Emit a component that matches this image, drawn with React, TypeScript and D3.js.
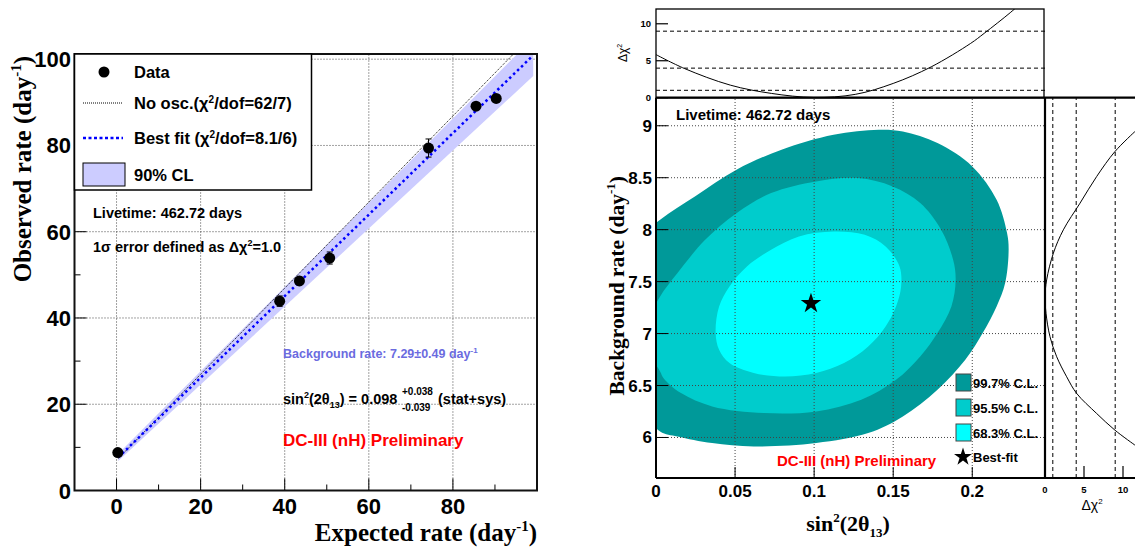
import * as d3 from "d3";

// ---- left panel: observed vs expected rate ----
const expected = [0.3, 38.8, 43.5, 50.7, 74.2, 85.5, 90.3];
const observed = [8.8, 43.9, 48.6, 53.9, 79.4, 89.1, 90.9];
const obsErr = [0.6, 1.2, 0.8, 1.4, 2.1, 0.8, 0.8];

const noOscX = [0.4, 94.4];
const noOscY = [7.4, 101.2];
const bestFitX = [0.4, 99.0];
const bestFitY = [7.67, 100.8];
const bandX = [0.4, 99.1];
const bandLow = [6.85, 96.1];
const bandHigh = [8.5, 104.9];

const leftXMajor = [0, 20, 40, 60, 80];
const leftXMinor = [-10, 10, 30, 50, 70, 90];
const leftYMajor = [0, 20, 40, 60, 80, 100];
const leftYMinor = [10, 30, 50, 70, 90];

// ---- right panel: sin^2(2theta13) vs background rate ----
const sinTicks = [0, 0.05, 0.1, 0.15, 0.2];
const sinTickLabels = ["0", "0.05", "0.1", "0.15", "0.2"];
const bkgTicks = [6, 6.5, 7, 7.5, 8, 8.5, 9];
const bkgTickLabels = ["6", "6.5", "7", "7.5", "8", "8.5", "9"];
const chiTicks = [0, 5, 10];
const chiLevels = [1, 4, 9];

const contour997: [number, number][] = [
  [0.0026, 8.095], [0.0246, 8.32], [0.0509, 8.577], [0.0794, 8.769], [0.1123, 8.913],
  [0.1408, 8.962], [0.1561, 8.945], [0.178, 8.833], [0.2, 8.609], [0.2154, 8.288],
  [0.222, 7.967], [0.223, 7.807], [0.2208, 7.486], [0.2154, 7.261], [0.2066, 7.005],
  [0.1956, 6.748], [0.178, 6.459], [0.1561, 6.202], [0.1342, 6.042], [0.1013, 5.946],
  [0.0618, 5.914], [0.0355, 5.946], [0.0136, 6.01], [0.0026, 6.058],
  [-0.01, 6.3], [-0.022, 6.8], [-0.025, 7.4], [-0.015, 7.85],
];
const contour955: [number, number][] = [
  [0.0026, 7.357], [0.0136, 7.582], [0.0311, 7.903], [0.0509, 8.159], [0.0728, 8.352],
  [0.1013, 8.464], [0.1276, 8.496], [0.1496, 8.416], [0.1671, 8.256], [0.1803, 7.999],
  [0.1879, 7.71], [0.1895, 7.518], [0.1868, 7.261], [0.178, 7.005], [0.1671, 6.78],
  [0.1518, 6.555], [0.1298, 6.363], [0.1013, 6.251], [0.0684, 6.235], [0.0355, 6.299],
  [0.0158, 6.427], [0.0048, 6.571], [0.0026, 6.636],
  [-0.003, 6.78], [-0.005, 6.95], [-0.004, 7.15],
];
const contour683: [number, number][] = [
  [0.0377, 7.005], [0.0399, 7.261], [0.0465, 7.454], [0.0575, 7.646], [0.0728, 7.807],
  [0.0904, 7.935], [0.1123, 7.983], [0.132, 7.951], [0.1452, 7.839], [0.154, 7.646],
  [0.155, 7.454], [0.1518, 7.261], [0.1452, 7.069], [0.1342, 6.876], [0.1189, 6.716],
  [0.1013, 6.62], [0.0816, 6.587], [0.0618, 6.62], [0.0465, 6.716], [0.0399, 6.844],
];
const bestFit = { sin: 0.098, bkg: 7.29 };

const sinProfileX = [0, 0.018, 0.047, 0.073, 0.0997, 0.126, 0.15, 0.174, 0.199, 0.2075, 0.224, 0.232];
const sinProfileChi = [5.83, 3.95, 1.7, 0.58, 0.04, 0.45, 1.93, 4.17, 7.35, 8.7, 11.5, 13.0];

const bkgProfileY = [5.926, 6.07, 6.231, 6.424, 6.584, 6.777, 6.97, 7.195, 7.355, 7.516, 7.773, 7.998, 8.255, 8.511, 8.752, 8.945];
const bkgProfileChi = [11.54, 8.97, 6.62, 4.06, 2.78, 1.5, 0.64, 0.13, 0.0, 0.21, 1.07, 2.35, 4.49, 6.62, 8.97, 11.54];

const clLabels = ["99.7% C.L.", "95.5% C.L.", "68.3% C.L."];
const clColors = ["#009999", "#00cccc", "#00ffff"];

const SANS = "'Liberation Sans', Arial, Helvetica, sans-serif";
const SERIF = "'Liberation Serif', 'Times New Roman', serif";

export default function App() {
  // left scales
  const lx = d3.scaleLinear().domain([-10, 100]).range([74.5, 537]);
  const ly = d3.scaleLinear().domain([0, 101.2]).range([490.5, 54]);
  // right scales
  const sx = d3.scaleLinear().domain([0, 0.246]).range([656, 1045]);
  const by = d3.scaleLinear().domain([5.61, 9.27]).range([478, 97.7]);
  const ty = d3.scaleLinear().domain([0, 12]).range([97.7, 9]);
  const rx = d3.scaleLinear().domain([0, 12]).range([1045, 1138.6]);

  const [L0, L1] = lx.range();
  const [LB, LT] = ly.range();
  const [R0, R1] = sx.range();
  const [RB, RT] = by.range();
  const TT = ty.range()[1];

  const seg = d3.line<number>();
  const noOscPath = seg(noOscX.map((x, i) => [lx(x), ly(noOscY[i])]) as any);
  const fitPath = seg(bestFitX.map((x, i) => [lx(x), ly(bestFitY[i])]) as any);
  const bandPts = [
    [bandX[0], bandLow[0]], [bandX[1], bandLow[1]],
    [bandX[1], bandHigh[1]], [bandX[0], bandHigh[0]],
  ].map(([x, y]) => `${lx(x)},${ly(y)}`).join(" ");

  const closed = d3.line<[number, number]>()
    .x((d) => sx(d[0]))
    .y((d) => by(d[1]))
    .curve(d3.curveCatmullRomClosed.alpha(0.5));

  const topCurve = d3.line<number>()
    .x((d) => sx(d))
    .y((_, i) => ty(sinProfileChi[i]))
    .curve(d3.curveCatmullRom.alpha(0.5))(sinProfileX);

  const rightCurve = d3.line<number>()
    .x((_, i) => rx(bkgProfileChi[i]))
    .y((d) => by(d))
    .curve(d3.curveCatmullRom.alpha(0.5))(bkgProfileY);

  const star = d3.symbol(d3.symbolStar, 130)();
  const starSmall = d3.symbol(d3.symbolStar, 100)();

  const grid = { stroke: "#444", strokeWidth: 1, strokeDasharray: "1,2" };

  return (
    <svg width={1135} height={550} style={{ position: "absolute", left: 0, top: 0, background: "#fff" }}>
      <defs>
        <clipPath id="clipL"><rect x={L0} y={LT} width={L1 - L0} height={LB - LT} /></clipPath>
        <clipPath id="clipM"><rect x={R0} y={RT} width={R1 - R0} height={RB - RT} /></clipPath>
        <clipPath id="clipT"><rect x={R0} y={TT} width={R1 - R0} height={RT - TT} /></clipPath>
        <clipPath id="clipR"><rect x={R1} y={RT} width={1135 - R1} height={RB - RT} /></clipPath>
      </defs>

      {/* ================= LEFT PANEL ================= */}
      <g>
        {leftXMajor.map((t) => (
          <line key={"gx" + t} x1={lx(t)} x2={lx(t)} y1={LB} y2={LT} {...grid} />
        ))}
        {leftYMajor.filter((t) => t > 0).map((t) => (
          <line key={"gy" + t} x1={L0} x2={L1} y1={ly(t)} y2={ly(t)} {...grid} />
        ))}
        <g clipPath="url(#clipL)">
          <polygon points={bandPts} fill="#ccccff" />
          <path d={noOscPath!} stroke="#000" strokeWidth={1} strokeDasharray="1,1.2" fill="none" />
          <path d={fitPath!} stroke="#0000ff" strokeWidth={2.5} strokeDasharray="2.5,3" fill="none" />
        </g>
        {expected.map((e, i) => (
          <g key={"pt" + i}>
            <line x1={lx(e)} x2={lx(e)} y1={ly(observed[i] - obsErr[i])} y2={ly(observed[i] + obsErr[i])} stroke="#000" strokeWidth={1} />
            <line x1={lx(e) - 3} x2={lx(e) + 3} y1={ly(observed[i] - obsErr[i])} y2={ly(observed[i] - obsErr[i])} stroke="#000" strokeWidth={1} />
            <line x1={lx(e) - 3} x2={lx(e) + 3} y1={ly(observed[i] + obsErr[i])} y2={ly(observed[i] + obsErr[i])} stroke="#000" strokeWidth={1} />
            <circle cx={lx(e)} cy={ly(observed[i])} r={5.5} fill="#000" />
          </g>
        ))}
        {/* ticks */}
        {leftXMajor.map((t) => (
          <line key={"tx" + t} x1={lx(t)} x2={lx(t)} y1={LB} y2={LB - 12} stroke="#000" strokeWidth={1} />
        ))}
        {leftXMinor.map((t) => (
          <line key={"mx" + t} x1={lx(t)} x2={lx(t)} y1={LB} y2={LB - 6} stroke="#000" strokeWidth={1} />
        ))}
        {leftYMajor.map((t) => (
          <line key={"ty" + t} x1={L0} x2={L0 + 12} y1={ly(t)} y2={ly(t)} stroke="#000" strokeWidth={1} />
        ))}
        {leftYMinor.map((t) => (
          <line key={"my" + t} x1={L0} x2={L0 + 6} y1={ly(t)} y2={ly(t)} stroke="#000" strokeWidth={1} />
        ))}
        <rect x={L0} y={LT} width={L1 - L0} height={LB - LT} fill="none" stroke="#111" strokeWidth={2} />
        {leftXMajor.map((t) => (
          <text key={"lx" + t} x={lx(t)} y={514} textAnchor="middle" fontFamily={SANS} fontWeight="bold" fontSize={22}>{t}</text>
        ))}
        {leftYMajor.map((t) => (
          <text key={"ly" + t} x={71} y={ly(t) + 8} textAnchor="end" fontFamily={SANS} fontWeight="bold" fontSize={22}>{t}</text>
        ))}
        <text x={537} y={541} textAnchor="end" fontFamily={SERIF} fontWeight="bold" fontSize={25}>
          Expected rate (day<tspan dy={-10} fontSize={15}>-1</tspan><tspan dy={10}>)</tspan>
        </text>
        <text transform="translate(31,56) rotate(-90)" textAnchor="end" fontFamily={SERIF} fontWeight="bold" fontSize={25}>
          Observed rate (day<tspan dy={-10} fontSize={15}>-1</tspan><tspan dy={10}>)</tspan>
        </text>

        {/* legend */}
        <rect x={L0} y={LT} width={237} height={136} fill="#fff" stroke="#000" strokeWidth={1.5} />
        <circle cx={104} cy={72} r={5.5} fill="#000" />
        <line x1={83} x2={123} y1={103} y2={103} stroke="#000" strokeWidth={1} strokeDasharray="1,1" />
        <line x1={83} x2={123} y1={138} y2={138} stroke="#0000ff" strokeWidth={2.5} strokeDasharray="3,2.5" />
        <rect x={83} y={163} width={42} height={23} fill="#ccccff" stroke="#000" strokeWidth={1} />
        <g fontFamily={SANS} fontWeight="bold" fontSize={16.5}>
          <text x={134} y={78}>Data</text>
          <text x={134} y={109}>No osc.(χ<tspan dy={-6} fontSize={10}>2</tspan><tspan dy={6}>/dof=62/7)</tspan></text>
          <text x={134} y={144}>Best fit (χ<tspan dy={-6} fontSize={10}>2</tspan><tspan dy={6}>/dof=8.1/6)</tspan></text>
          <text x={134} y={181}>90% CL</text>
        </g>

        <g fontFamily={SANS} fontWeight="bold">
          <text x={93} y={218} fontSize={14.5}>Livetime: 462.72 days</text>
          <text x={93} y={252} fontSize={14.5}>1σ error defined as Δχ<tspan dy={-6} fontSize={9}>2</tspan><tspan dy={6}>=1.0</tspan></text>
          <text x={283} y={358} fontSize={12.5} fill="#6b6bdf">Background rate: 7.29±0.49 day<tspan dy={-5} fontSize={8}>-1</tspan></text>
          <text x={283} y={404} fontSize={14.5}>sin<tspan dy={-6} fontSize={9}>2</tspan><tspan dy={6}>(2θ</tspan><tspan dy={4} fontSize={9}>13</tspan><tspan dy={-4}>) = 0.098</tspan></text>
          <text x={402} y={395} fontSize={10}>+0.038</text>
          <text x={402} y={411} fontSize={10}>-0.039</text>
          <text x={438} y={404} fontSize={14.5}>(stat+sys)</text>
          <text x={283} y={446} fontSize={17} fill="#ff0000">DC-III (nH) Preliminary</text>
        </g>
      </g>

      {/* ================= RIGHT: MAIN CONTOUR PANEL ================= */}
      <g>
        <g clipPath="url(#clipM)">
          <path d={closed(contour997)!} fill={clColors[0]} />
          <path d={closed(contour955)!} fill={clColors[1]} />
          <path d={closed(contour683)!} fill={clColors[2]} />
        </g>
        {sinTicks.filter((t) => t > 0).map((t) => (
          <line key={"sg" + t} x1={sx(t)} x2={sx(t)} y1={RB} y2={RT} {...grid} />
        ))}
        {bkgTicks.map((t) => (
          <line key={"bg" + t} x1={R0} x2={R1} y1={by(t)} y2={by(t)} {...grid} />
        ))}
        {sinTicks.map((t) => (
          <line key={"st" + t} x1={sx(t)} x2={sx(t)} y1={RB} y2={RB - 11} stroke="#000" strokeWidth={1} />
        ))}
        {bkgTicks.map((t) => (
          <line key={"bt" + t} x1={R0} x2={R0 + 12} y1={by(t)} y2={by(t)} stroke="#000" strokeWidth={1} />
        ))}
        <path d={star!} transform={`translate(${sx(bestFit.sin)},${by(bestFit.bkg)})`} fill="#000" />

        {/* legend */}
        {clLabels.map((l, i) => (
          <g key={l}>
            <rect x={956} y={374 + i * 25} width={15} height={17} fill={clColors[i]} stroke="#444" strokeWidth={1} />
            <text x={973} y={388 + i * 25} fontFamily={SANS} fontWeight="bold" fontSize={13}>{l}</text>
          </g>
        ))}
        <path d={starSmall!} transform="translate(963,457)" fill="#000" />
        <text x={973} y={462} fontFamily={SANS} fontWeight="bold" fontSize={13}>Best-fit</text>

        <text x={676} y={120} fontFamily={SANS} fontWeight="bold" fontSize={15}>Livetime: 462.72 days</text>
        <text x={777} y={466} fontFamily={SANS} fontWeight="bold" fontSize={15} fill="#ff0000">DC-III (nH) Preliminary</text>

        {sinTicks.map((t, i) => (
          <text key={"sl" + t} x={sx(t)} y={497} textAnchor="middle" fontFamily={SANS} fontWeight="bold" fontSize={17}>{sinTickLabels[i]}</text>
        ))}
        {bkgTicks.map((t, i) => (
          <text key={"bl" + t} x={652} y={by(t) + 6} textAnchor="end" fontFamily={SANS} fontWeight="bold" fontSize={17}>{bkgTickLabels[i]}</text>
        ))}
        <text x={848} y={531} textAnchor="middle" fontFamily={SERIF} fontWeight="bold" fontSize={22}>
          sin<tspan dy={-9} fontSize={13}>2</tspan><tspan dy={9}>(2θ</tspan><tspan dy={6} fontSize={13}>13</tspan><tspan dy={-6}>)</tspan>
        </text>
        <text transform="translate(624,176) rotate(-90)" textAnchor="end" fontFamily={SERIF} fontWeight="bold" fontSize={21.5}>
          Background rate (day<tspan dy={-9} fontSize={13}>-1</tspan><tspan dy={9}>)</tspan>
        </text>
      </g>

      {/* ================= TOP PANEL: delta chi2 vs sin2 ================= */}
      <g>
        {chiLevels.map((c) => (
          <line key={"tl" + c} x1={R0} x2={R1} y1={ty(c)} y2={ty(c)} stroke="#000" strokeWidth={1} strokeDasharray="4,3" />
        ))}
        <path d={topCurve!} clipPath="url(#clipT)" fill="none" stroke="#000" strokeWidth={1} />
        {chiTicks.map((c) => (
          <line key={"tt" + c} x1={R0} x2={R0 + 12} y1={ty(c)} y2={ty(c)} stroke="#000" strokeWidth={1.2} />
        ))}
        {chiTicks.map((c) => (
          <text key={"ttl" + c} x={651} y={ty(c) + 3.5} textAnchor="end" fontFamily={SANS} fontWeight="bold" fontSize={9.5}>{c}</text>
        ))}
        <rect x={R0} y={TT} width={R1 - 1 - R0} height={RT - TT} fill="none" stroke="#000" strokeWidth={1.3} />
        <text transform="translate(627,53) rotate(-90)" textAnchor="middle" fontFamily={SANS} fontSize={12}>
          Δχ<tspan dy={-5} fontSize={7}>2</tspan>
        </text>
      </g>

      {/* ================= RIGHT PANEL: delta chi2 vs bkg ================= */}
      <g>
        {chiLevels.map((c) => (
          <line key={"rl" + c} x1={rx(c)} x2={rx(c)} y1={RB} y2={RT} stroke="#000" strokeWidth={1} strokeDasharray="4,3" />
        ))}
        <path d={rightCurve!} clipPath="url(#clipR)" fill="none" stroke="#000" strokeWidth={1} />
        {chiTicks.filter((c) => c > 0).map((c) => (
          <line key={"rt" + c} x1={rx(c)} x2={rx(c)} y1={RB} y2={RB - 12} stroke="#000" strokeWidth={1.2} />
        ))}
        {chiTicks.map((c) => (
          <text key={"rtl" + c} x={rx(c)} y={493} textAnchor="middle" fontFamily={SANS} fontWeight="bold" fontSize={9.5}>{c}</text>
        ))}
        <text x={1092} y={510} textAnchor="middle" fontFamily={SANS} fontSize={14}>
          Δχ<tspan dy={-6} fontSize={8}>2</tspan>
        </text>
      </g>

      {/* frame lines of right composite */}
      <line x1={R0} x2={R0} y1={RT} y2={RB} stroke="#000" strokeWidth={2} />
      <line x1={R0} x2={1135} y1={RB} y2={RB} stroke="#000" strokeWidth={2} />
      <line x1={R0} x2={1135} y1={RT} y2={RT} stroke="#000" strokeWidth={2.2} />
      <line x1={R1} x2={R1} y1={RT} y2={RB} stroke="#000" strokeWidth={2.2} />
    </svg>
  );
}
